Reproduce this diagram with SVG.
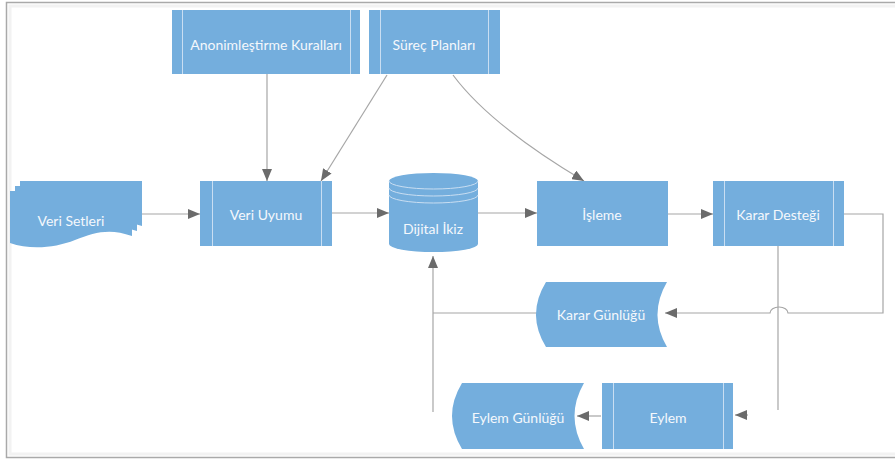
<svg xmlns="http://www.w3.org/2000/svg" width="895" height="461" viewBox="0 0 895 461">
<defs>
<style>
.shape{fill:#74aedd;stroke:none}
.inner{stroke:#c9def2;stroke-width:1;fill:none}
.lbl{font-family:Lato,"Open Sans","Liberation Sans",sans-serif;font-size:14px;fill:#f4f8fc;text-anchor:middle;dominant-baseline:central}
.conn{fill:none;stroke:#a6a6a6;stroke-width:1.2}
.frame{fill:none;stroke:#a9a9a9;stroke-width:1.5}
</style>
<marker id="ah" viewBox="0 0 12 10" refX="12" refY="5" markerWidth="12" markerHeight="10" markerUnits="userSpaceOnUse" orient="auto">
<path d="M0,0 L12,5 L0,10 Z" fill="#6b6b6b"/>
</marker>
</defs>
<rect x="0" y="0" width="895" height="461" fill="#ffffff"/>
<path class="frame" d="M896,2.5 H6.5 V457.5 H896"/>
<path d="M896,6 H10 V454 H896" fill="none" stroke="#f2f2f2" stroke-width="3"/>

<g id="connectors">
<path class="conn" d="M142,214 H200" marker-end="url(#ah)"/>
<path class="conn" d="M332,213 H389" marker-end="url(#ah)"/>
<path class="conn" d="M478,213 H537" marker-end="url(#ah)"/>
<path class="conn" d="M668,214 H713" marker-end="url(#ah)"/>
<path class="conn" d="M267,74 V181" marker-end="url(#ah)"/>
<path class="conn" d="M387,75 L321,181" marker-end="url(#ah)"/>
<path class="conn" d="M453,75 Q490,125 584,181" marker-end="url(#ah)"/>
<path class="conn" d="M844,214 H883 V313 H788 A9,6 0 0 0 770,313 H665" marker-end="url(#ah)"/>
<path class="conn" d="M778,246 V410"/>
<path class="conn" d="M537,313 H433"/>
<path class="conn" d="M433,412 V256" marker-end="url(#ah)"/>
<path class="conn" d="M748,415 H735" marker-end="url(#ah)"/>
<path class="conn" d="M601,416 H577" marker-end="url(#ah)"/>
</g>

<g id="anonimlestirme">
<rect class="shape" x="172" y="10" width="188" height="64"/>
<path class="inner" d="M182.5,10 V74 M350.5,10 V74"/>
<text class="lbl" x="266" y="44">Anonimleştirme Kuralları</text>
</g>

<g id="surec">
<rect class="shape" x="369" y="10" width="131" height="64"/>
<path class="inner" d="M380.5,10 V74 M488.5,10 V74"/>
<text class="lbl" x="434" y="44">Süreç Planları</text>
</g>

<g id="veri-setleri">
<path class="shape" stroke="#e8f1fa" stroke-width="0.8" d="M20,181 H142 V226 C120,218 105,222 85,230 C65,238 40,240 20,233 Z"/>
<path class="shape" stroke="#e8f1fa" stroke-width="0.8" d="M15,186 H137 V231 C115,223 100,227 80,235 C60,243 35,245 15,238 Z"/>
<path class="shape" stroke="#e8f1fa" stroke-width="0.8" d="M10,191 H132 V236 C110,228 95,232 75,240 C55,248 30,250 10,243 Z"/>
<text class="lbl" x="71" y="220">Veri Setleri</text>
</g>

<g id="veri-uyumu">
<rect class="shape" x="200" y="181" width="132" height="65"/>
<path class="inner" d="M212.5,181 V246 M321.5,181 V246"/>
<text class="lbl" x="266" y="214">Veri Uyumu</text>
</g>

<g id="dijital-ikiz">
<path class="shape" d="M389,181 A44.5,8 0 0 1 478,181 V244 A44.5,8 0 0 1 389,244 Z"/>
<path class="inner" d="M389,181 A44.5,8 0 0 0 478,181 M389,188 A44.5,8 0 0 0 478,188 M389,195 A44.5,8 0 0 0 478,195"/>
<text class="lbl" x="433" y="228">Dijital İkiz</text>
</g>

<g id="isleme">
<rect class="shape" x="537" y="181" width="131" height="65"/>
<text class="lbl" x="602" y="214">İşleme</text>
</g>

<g id="karar-destegi">
<rect class="shape" x="713" y="181" width="131" height="65"/>
<path class="inner" d="M724.5,181 V246 M833.5,181 V246"/>
<text class="lbl" x="778" y="214">Karar Desteği</text>
</g>

<g id="karar-gunlugu">
<path class="shape" d="M546,282 H667 Q648,314.5 667,347 H546 Q526,314.5 546,282 Z"/>
<text class="lbl" x="601" y="314">Karar Günlüğü</text>
</g>

<g id="eylem-gunlugu">
<path class="shape" d="M462,383 H584 Q565,416 584,449 H462 Q442,416 462,383 Z"/>
<text class="lbl" x="518" y="417">Eylem Günlüğü</text>
</g>

<g id="eylem">
<rect class="shape" x="602" y="383" width="131" height="66"/>
<path class="inner" d="M613.5,383 V449 M723.5,383 V449"/>
<text class="lbl" x="668" y="417">Eylem</text>
</g>
</svg>
